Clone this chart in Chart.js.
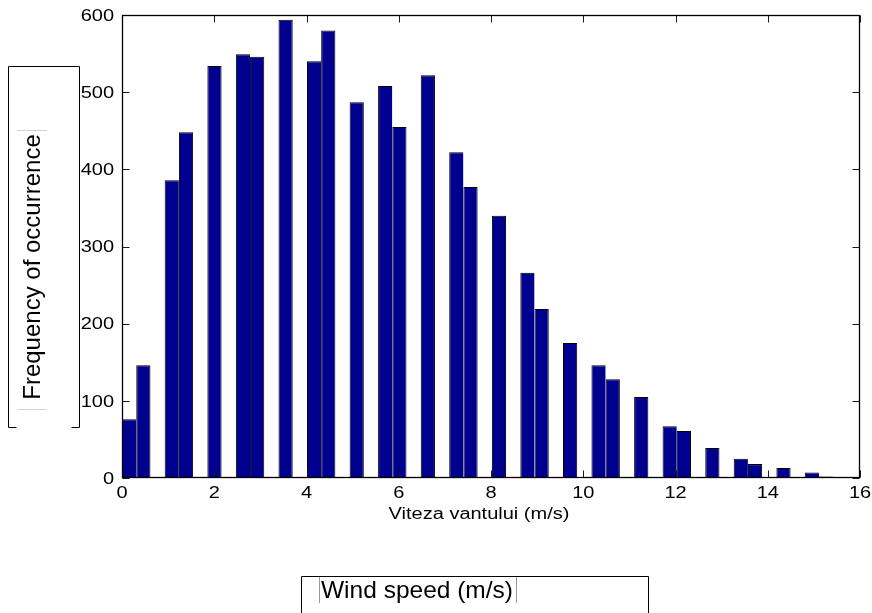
<!DOCTYPE html>
<html>
<head>
<meta charset="utf-8">
<title>Wind speed histogram</title>
<script src="https://cdn.jsdelivr.net/npm/chart.js@4/dist/chart.umd.min.js"></script>
<style>
  html, body { margin: 0; padding: 0; background: #ffffff; }
  #wrap { width: 872px; height: 613px; position: relative; }
</style>
</head>
<body>
<div id="wrap"><canvas id="chart" width="872" height="613"></canvas></div>
<script>
// Bin centres of the wind speed histogram (m/s), 50 equal bins from 0 to 15.42
const windSpeedBins = [
  0.154, 0.463, 0.771, 1.079, 1.388, 1.696, 2.005, 2.313, 2.622, 2.930,
  3.238, 3.547, 3.855, 4.164, 4.472, 4.780, 5.089, 5.397, 5.706, 6.014,
  6.322, 6.631, 6.939, 7.248, 7.556, 7.865, 8.173, 8.481, 8.790, 9.098,
  9.407, 9.715, 10.023, 10.332, 10.640, 10.949, 11.257, 11.566, 11.874, 12.182,
  12.491, 12.799, 13.108, 13.416, 13.724, 14.033, 14.341, 14.650, 14.958, 15.267
];

// Number of records falling in each bin
const frequency = [
  76, 146, 0, 386, 448, 0, 534, 0, 549, 546,
  0, 594, 0, 540, 580, 0, 487, 0, 508, 455,
  0, 522, 0, 422, 377, 0, 340, 0, 266, 219,
  0, 175, 0, 146, 128, 0, 105, 0, 67, 61,
  0, 39, 0, 25, 18, 0, 13, 0, 7, 2
];

const xTicks = [0, 2, 4, 6, 8, 10, 12, 14, 16];
const yTicks = [0, 100, 200, 300, 400, 500, 600];

const xAxisTitle = 'Viteza vantului (m/s)';
const yBoxLabel = 'Frequency of occurrence';
const xBoxLabel = 'Wind speed (m/s)';

const AXIS_FONT = 'Liberation Sans, Arial, sans-serif';
const TEXT_STRETCH = 1.25;   // figure text is drawn horizontally widened
const TICK_LEN = 7;

function stretchedText(ctx, text, x, y, align, sx) {
  ctx.save();
  ctx.translate(x, y);
  ctx.scale(sx, 1);
  ctx.textAlign = align;
  ctx.textBaseline = 'alphabetic';
  ctx.fillText(text, 0, 0);
  ctx.restore();
}

// Draws the boxed axes, inward tick marks, tick labels and the text boxes
const figureDecor = {
  id: 'figureDecor',
  afterDatasetsDraw(chart) {
    const ctx = chart.ctx;
    const a = chart.chartArea;
    const xs = chart.scales.x;
    const ys = chart.scales.y;
    const L = Math.round(a.left) + 0.5, R = Math.round(a.right) - 0.5;
    const T = Math.round(a.top) + 0.5, B = Math.round(a.bottom) - 0.5;

    ctx.save();
    // tick marks on all four sides, pointing inward
    ctx.strokeStyle = '#1a1a1a';
    ctx.lineWidth = 1;
    ctx.beginPath();
    xTicks.forEach(v => {
      const px = Math.round(xs.getPixelForValue(v)) + 0.5;
      ctx.moveTo(px, B); ctx.lineTo(px, B - TICK_LEN);
      ctx.moveTo(px, T); ctx.lineTo(px, T + TICK_LEN);
    });
    yTicks.forEach(v => {
      const py = Math.round(ys.getPixelForValue(v)) + 0.5;
      ctx.moveTo(L, py); ctx.lineTo(L + TICK_LEN, py);
      ctx.moveTo(R, py); ctx.lineTo(R - TICK_LEN, py);
    });
    ctx.stroke();

    // axes box
    ctx.strokeStyle = '#000000';
    ctx.lineWidth = 1.3;
    ctx.strokeRect(L, T, R - L, B - T);

    // tick labels
    ctx.fillStyle = '#000000';
    ctx.font = '16px ' + AXIS_FONT;
    xTicks.forEach(v => {
      stretchedText(ctx, String(v), xs.getPixelForValue(v), 497.5, 'center', TEXT_STRETCH);
    });
    yTicks.forEach(v => {
      stretchedText(ctx, String(v), 114, ys.getPixelForValue(v) + 5.7, 'right', TEXT_STRETCH);
    });

    // x axis title
    stretchedText(ctx, xAxisTitle, 479, 518.5, 'center', TEXT_STRETCH);

    // vertical text box on the left
    ctx.strokeStyle = '#000000';
    ctx.lineWidth = 1;
    ctx.beginPath();
    ctx.moveTo(8.5, 427.5); ctx.lineTo(8.5, 66.5); ctx.lineTo(79.5, 66.5); ctx.lineTo(79.5, 427.5);
    ctx.moveTo(8.5, 427.5); ctx.lineTo(16.5, 427.5);
    ctx.moveTo(71.5, 427.5); ctx.lineTo(79.5, 427.5);
    ctx.stroke();
    ctx.strokeStyle = '#d4d4d4';
    ctx.beginPath();
    ctx.moveTo(17, 130.5); ctx.lineTo(47, 130.5);
    ctx.moveTo(17, 409.5); ctx.lineTo(47, 409.5);
    ctx.stroke();

    ctx.save();
    ctx.translate(39.5, 267);
    ctx.rotate(-Math.PI / 2);
    ctx.font = '24px ' + AXIS_FONT;
    ctx.textAlign = 'center';
    ctx.textBaseline = 'alphabetic';
    ctx.fillStyle = '#000000';
    ctx.fillText(yBoxLabel, 0, 0);
    ctx.restore();

    // text box at the bottom
    ctx.strokeStyle = '#000000';
    ctx.lineWidth = 1;
    ctx.beginPath();
    ctx.moveTo(301.5, 620); ctx.lineTo(301.5, 576.5); ctx.lineTo(648.5, 576.5); ctx.lineTo(648.5, 620);
    ctx.stroke();
    ctx.strokeStyle = '#9a9a9a';
    ctx.beginPath();
    ctx.moveTo(319.5, 577); ctx.lineTo(319.5, 603);
    ctx.moveTo(516.5, 577); ctx.lineTo(516.5, 603);
    ctx.stroke();
    ctx.font = '24.5px ' + AXIS_FONT;
    ctx.fillStyle = '#000000';
    ctx.textAlign = 'left';
    ctx.textBaseline = 'alphabetic';
    ctx.fillText(xBoxLabel, 321, 598);

    ctx.restore();
  }
};

const points = windSpeedBins.map((x, i) => ({ x: x, y: frequency[i] }));

new Chart(document.getElementById('chart'), {
  type: 'bar',
  data: {
    datasets: [{
      data: points,
      backgroundColor: '#00008f',
      borderColor: '#000000',
      borderWidth: (c) => {
        const i = c.dataIndex;
        const nextEmpty = i === frequency.length - 1 || !frequency[i + 1];
        return { left: 1, top: 1, right: nextEmpty ? 1 : 0, bottom: 0 };
      },
      borderSkipped: false,
      inflateAmount: 0,
      barPercentage: 1,
      categoryPercentage: 1
    }]
  },
  plugins: [figureDecor],
  options: {
    responsive: false,
    animation: false,
    devicePixelRatio: 1,
    layout: { padding: { left: 122, right: 12, top: 15, bottom: 135 } },
    plugins: {
      legend: { display: false },
      tooltip: { enabled: false }
    },
    scales: {
      x: {
        type: 'linear',
        display: false,
        offset: false,
        min: 0,
        max: 16
      },
      y: {
        type: 'linear',
        display: false,
        min: 0,
        max: 600
      }
    }
  }
});
</script>
</body>
</html>
